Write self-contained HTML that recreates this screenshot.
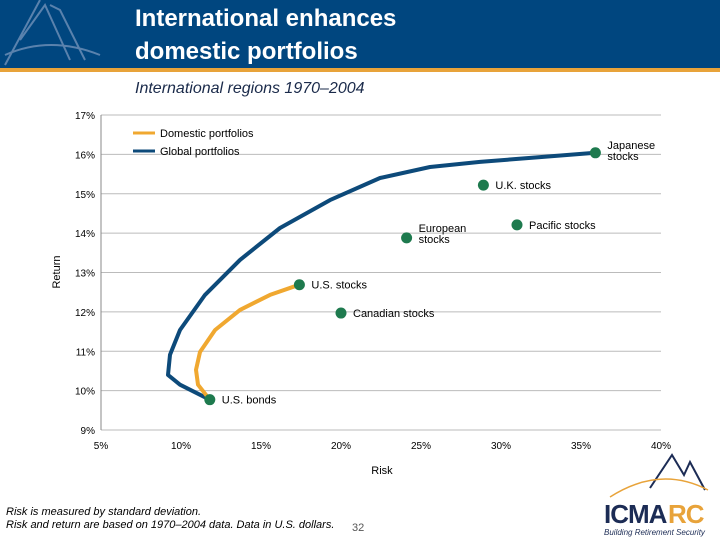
<!DOCTYPE html>
<html><head><meta charset="utf-8"><style>
body{margin:0;width:720px;height:540px;overflow:hidden;background:#fff;font-family:"Liberation Sans",sans-serif}
</style></head><body>
<svg width="720" height="540" xmlns="http://www.w3.org/2000/svg">
<rect x="0" y="0" width="720" height="68" fill="#00467f"/>
<rect x="0" y="68" width="720" height="4" fill="#e8a33a"/>
<g stroke="#5a82ad" stroke-width="2" fill="none">
<path d="M5,65 L40,0 M20,40 L45,5 L70,60 M50,5 L60,10 L85,60 M5,55 Q50,35 100,55"/>
</g>
<text x="135" y="26" font-size="24" font-weight="bold" fill="#fff">International enhances</text>
<text x="135" y="59" font-size="24" font-weight="bold" fill="#fff">domestic portfolios</text>
<text x="135" y="93" font-size="16" font-style="italic" fill="#1a2a4a">International regions 1970–2004</text>
<g id="chart"></g>
<text x="6" y="515" font-size="11" font-style="italic" fill="#000">Risk is measured by standard deviation.</text>
<text x="6" y="528" font-size="11" font-style="italic" fill="#000">Risk and return are based on 1970–2004 data. Data in U.S. dollars.</text>
<text x="352" y="531" font-size="11" fill="#555">32</text>
<g>
<path d="M650,488 L672,455 L684,475 L690,462 L705,490" stroke="#1c2c55" stroke-width="2" fill="none"/>
<path d="M610,497 Q660,465 708,490" stroke="#e8a33a" stroke-width="1.5" fill="none"/>
<text x="604" y="523" font-size="26" fill="#1c2c55" font-weight="bold" letter-spacing="-1">ICMA</text>
<text x="668" y="523" font-size="26" fill="#e8a33a" font-weight="bold" letter-spacing="-1">RC</text>
<text x="604" y="535" font-size="8" font-style="italic" fill="#1c2c55">Building Retirement Security</text>
</g>
</svg>
<script>
const xTicks=[5,10,15,20,25,30,35,40];
const yTicks=[9,10,11,12,13,14,15,16,17];
const pointNames=["Japanese stocks","U.K. stocks","Pacific stocks","European stocks","U.S. stocks","Canadian stocks","U.S. bonds"];
const pointRisk=[35.9,28.9,31.0,24.1,17.4,20.0,11.8];
const pointReturn=[16.04,15.22,14.21,13.88,12.69,11.97,9.77];
const domesticRisk=[11.8,11.06,10.94,11.19,12.13,13.69,15.56,17.4];
const domesticReturn=[9.77,10.15,10.53,10.98,11.54,12.05,12.43,12.69];
const globalRisk=[11.8,9.94,9.19,9.31,9.94,11.5,13.69,16.19,19.31,22.44,25.56,28.69,32.44,35.9];
const globalReturn=[9.77,10.15,10.40,10.91,11.54,12.43,13.32,14.13,14.84,15.40,15.68,15.81,15.93,16.04];
const X=v=>101+(v-5)*16, Y=v=>430-(v-9)*39.375;
const ns="http://www.w3.org/2000/svg", g=document.getElementById('chart');
function mk(t,a,p){const e=document.createElementNS(ns,t);for(const k in a)e.setAttribute(k,a[k]);(p||g).appendChild(e);return e;}
yTicks.forEach(v=>{
 const l=mk('line',{x1:101,x2:661,y1:Y(v),y2:Y(v),stroke:'#bbb','stroke-width':1});
 
 
 const t=mk('text',{x:95,y:Y(v)+4,'font-size':10,'text-anchor':'end'});t.textContent=v+'%';
 
 
});
const ax=mk('line',{x1:101,x2:101,y1:115,y2:430,stroke:'#888'});


xTicks.forEach(v=>{
 const t=mk('text',{x:X(v),y:449,'font-size':10,'text-anchor':'middle'});t.textContent=v+'%';
 
 
});
const xt=mk('text',{x:382,y:474,'font-size':11,'text-anchor':'middle'});xt.textContent='Risk';


const yt=mk('text',{x:60,y:272,'font-size':11,'text-anchor':'middle',transform:'rotate(-90 60 272)'});yt.textContent='Return';


function curve(rx,ry){let d='';rx.forEach((r,i)=>{d+=(i?'L':'M')+X(r).toFixed(1)+','+Y(ry[i]).toFixed(1);});return d;}
const gl=mk('path',{d:curve(globalRisk,globalReturn),stroke:'#0d4a7a','stroke-width':4,fill:'none','stroke-linejoin':'round'});


const dl=mk('path',{d:curve(domesticRisk,domesticReturn),stroke:'#f0a830','stroke-width':4,fill:'none','stroke-linejoin':'round'});


const labelOff=[[12,-4],[12,4],[12,4],[12,-6],[12,4],[12,4],[12,4]];
pointNames.forEach((n,i)=>{
 const cx=X(pointRisk[i]),cy=Y(pointReturn[i]);
 const c=mk('circle',{cx:cx,cy:cy,r:5.5,fill:'#1e7a4e'});
 
 
 const parts=(i==0||i==3)?n.split(' '):[n];
 parts.forEach((p,j)=>{
  const t=mk('text',{x:cx+labelOff[i][0],y:cy+labelOff[i][1]+j*11,'font-size':11});t.textContent=p;
  
  
 });
});
[['Domestic portfolios','#f0a830',133],['Global portfolios','#0d4a7a',151]].forEach(a=>{
 const l=mk('line',{x1:133,x2:155,y1:a[2],y2:a[2],stroke:a[1],'stroke-width':3});
 
 
 const t=mk('text',{x:160,y:a[2]+4,'font-size':11});t.textContent=a[0];
 
 
});
</script>
</body></html>
